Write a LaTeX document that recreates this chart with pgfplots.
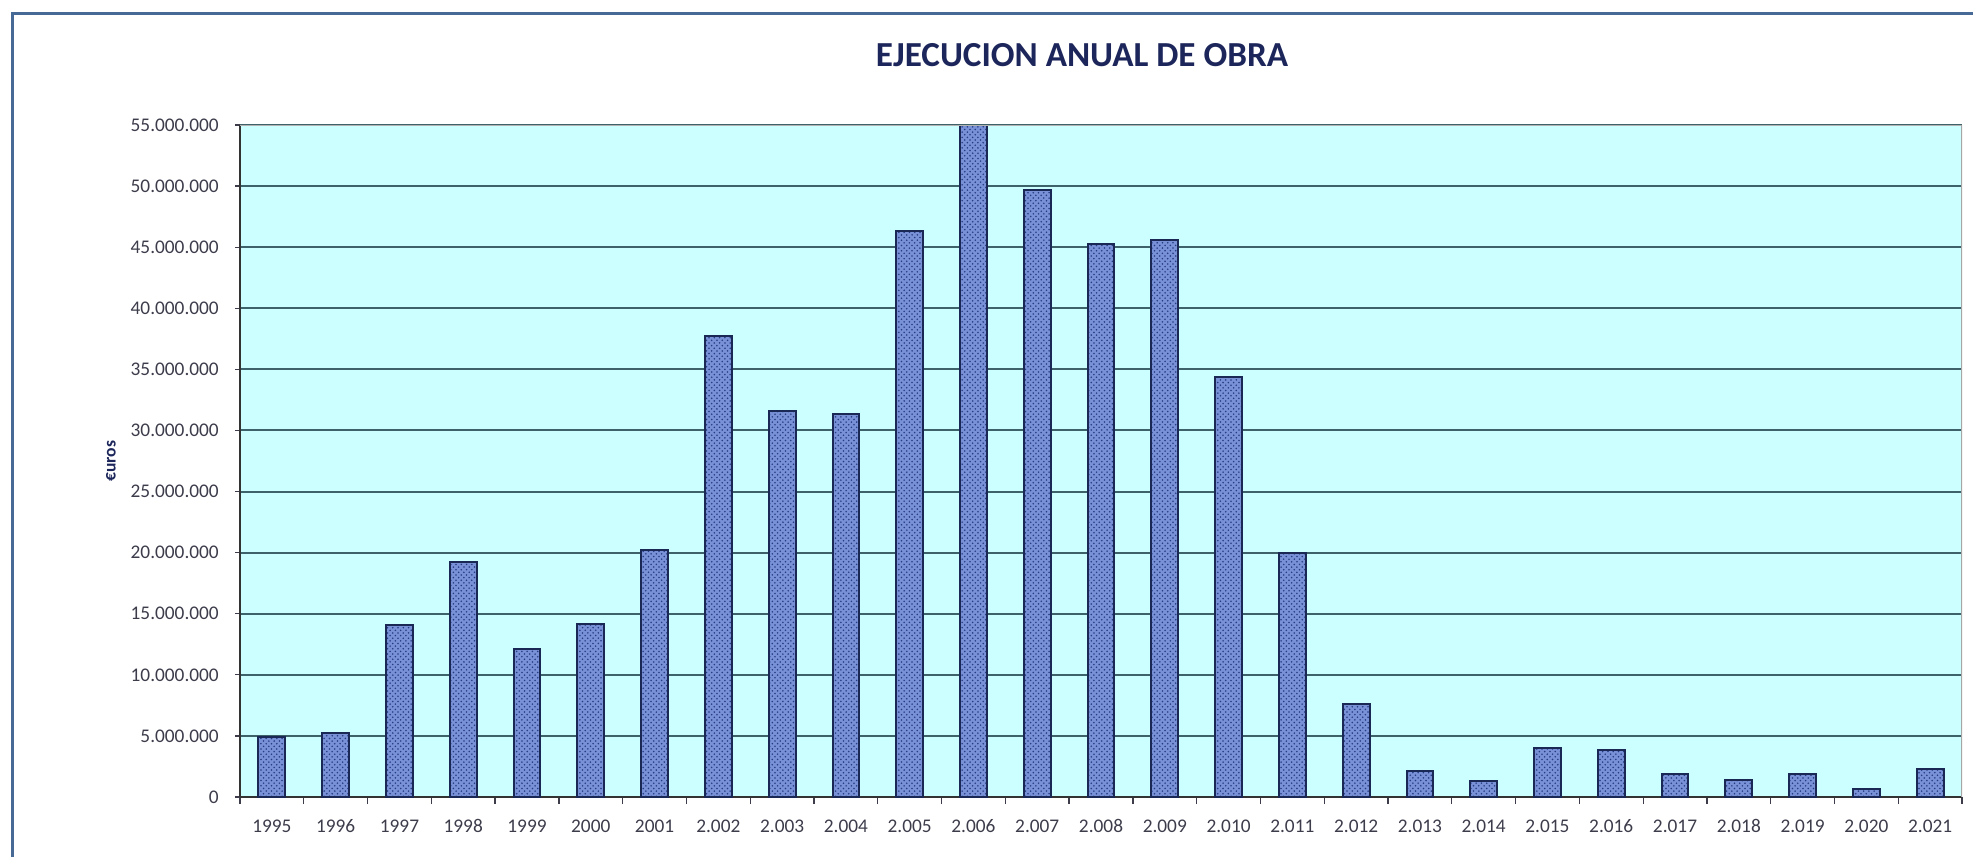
\documentclass[border=0pt]{standalone}
\usepackage{fontspec}
\setmainfont{Carlito}
\usepackage{pgfplots}
\usepackage{pgfplotstable}
\usetikzlibrary{patterns}
\pgfplotsset{compat=1.18}
\definecolor{bgcyan}{RGB}{204,255,255}
\definecolor{gridc}{RGB}{62,98,105}
\definecolor{barfill}{RGB}{120,145,215}
\definecolor{bardots}{RGB}{40,60,130}
\definecolor{baredge}{RGB}{25,40,85}
\definecolor{titlec}{RGB}{28,38,90}
\definecolor{tickc}{RGB}{60,60,75}
\definecolor{framec}{RGB}{70,105,150}

\pgfplotstableread{
x val
0 4940000
1 5200000
2 14070000
3 19200000
4 12120000
5 14160000
6 20230000
7 37760000
8 31630000
9 31360000
10 46330000
11 55000000
12 49680000
13 45240000
14 45620000
15 34380000
16 20000000
17 7600000
18 2130000
19 1280000
20 4020000
21 3830000
22 1890000
23 1420000
24 1890000
25 630000
26 2320000
}\datatable

\begin{document}
\begin{tikzpicture}
\useasboundingbox (0,0) rectangle (394.6mm,171.4mm);
\draw[framec, line width=0.6mm] (2.4mm,0) -- (2.4mm,168.6mm) -- (394.6mm,168.6mm);
\begin{axis}[
  at={(48mm,12mm)}, anchor=south west,
  width=344.4mm, height=134.4mm, scale only axis,
  xmin=-0.5, xmax=26.5, ymin=0, ymax=55000000,
  axis background/.style={fill=bgcyan},
  ybar, bar width=0.42,
  xtick={0,...,26},
  xticklabels={1995,1996,1997,1998,1999,2000,2001,2.002,2.003,2.004,2.005,2.006,2.007,2.008,2.009,2.010,2.011,2.012,2.013,2.014,2.015,2.016,2.017,2.018,2.019,2.020,2.021},
  major x tick style={draw=none},
  minor xtick={-0.5,0.5,...,26.5},
  minor x tick style={draw=tickc, line width=0.25mm},
  ytick={0,5000000,10000000,15000000,20000000,25000000,30000000,35000000,40000000,45000000,50000000,55000000},
  yticklabels={0,5.000.000,10.000.000,15.000.000,20.000.000,25.000.000,30.000.000,35.000.000,40.000.000,45.000.000,50.000.000,55.000.000},
  scaled y ticks=false,
  /pgf/number format/assume math mode=true,
  ymajorgrids, grid style={gridc, line width=0.4mm},
  tick align=outside, major tick length=1mm, minor tick length=1.4mm,
  major y tick style={draw=tickc, line width=0.25mm},
  axis x line*=bottom, axis y line*=left,
  axis line style={-, draw=black!80, line width=0.3mm},
  tick label style={font=\fontsize{11}{13}\selectfont, text=tickc},
  xticklabel style={yshift=-2.3mm},
  yticklabel style={xshift=-2mm},
  title={EJECUCION ANUAL DE OBRA},
  title style={font=\fontsize{20}{24}\selectfont\bfseries, text=titlec, at={(axis description cs:0.489,1.089)}, anchor=center},
  ylabel={€uros},
  ylabel style={font=\fontsize{10}{12}\selectfont\bfseries, text=titlec, at={(axis description cs:-0.0749,0.5)}, anchor=center},
  clip=true,
]
\addplot[fill=barfill, draw=baredge, line width=0.4mm,
  postaction={pattern=crosshatch dots, pattern color=bardots}]
  table[x=x,y=val]{\datatable};
\draw[gray!60, line width=0.4mm] (rel axis cs:0,1) -- (rel axis cs:1,1);
\draw[gray!70, line width=0.3mm] (rel axis cs:1,0) -- (rel axis cs:1,1);
\end{axis}
\end{tikzpicture}
\end{document}
